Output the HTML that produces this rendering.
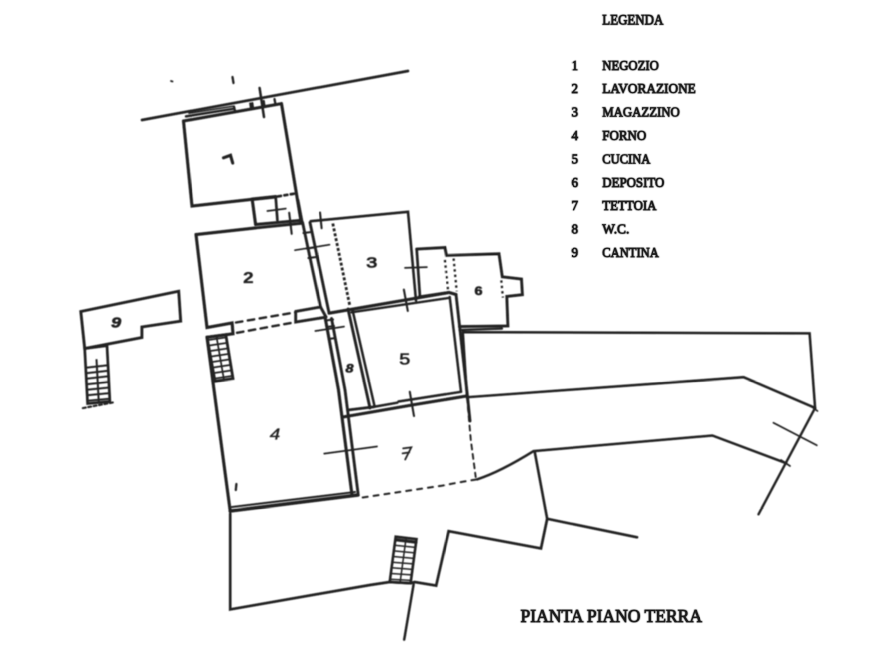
<!DOCTYPE html>
<html><head><meta charset="utf-8"><style>
html,body{margin:0;padding:0;background:#fff;width:893px;height:670px;overflow:hidden}
#clip{position:relative;width:893px;height:670px;overflow:hidden;background:#fff}
#wrap{position:absolute;left:0;top:0;width:1786px;height:1340px;transform:scale(0.5);transform-origin:0 0;will-change:transform}
svg{display:block}
</style></head><body><div id="clip"><div id="wrap">
<svg width="1786" height="1340" viewBox="0 0 893 670"><defs><filter id="bl" filterUnits="userSpaceOnUse" x="0" y="0" width="893" height="670"><feGaussianBlur stdDeviation="0.6"/></filter></defs><g filter="url(#bl)"><g fill="none" stroke-linejoin="miter"><path d="M142,120 L408,71" stroke="#202020" stroke-width="2.70" stroke-linecap="round"/>
<path d="M259.6,88 L264,117" stroke="#202020" stroke-width="2.50" stroke-linecap="round"/>
<path d="M232.5,77 L233.5,83" stroke="#202020" stroke-width="2.30" stroke-linecap="round"/>
<path d="M171,81 L172.5,81.5" stroke="#202020" stroke-width="1.80" stroke-linecap="round"/>
<path d="M183.5,121 L281.5,103.6" stroke="#202020" stroke-width="3.10" stroke-linecap="round"/>
<path d="M186,116.4 L234,108.7" stroke="#202020" stroke-width="2.50" stroke-linecap="round"/>
<path d="M189,113.2 L233,106.2" stroke="#202020" stroke-width="1.50" stroke-linecap="round"/>
<path d="M234,106.5 L235,111  M250.3,103.5 L251.2,109  M252.3,103.2 L253,108.5 M263.7,101 L264.5,106.5 M274.5,99 L275.5,104.5" stroke="#202020" stroke-width="2.30" stroke-linecap="round"/>
<path d="M183.5,121 L192,206 L252.2,199.3" stroke="#202020" stroke-width="3.10" stroke-linecap="round"/>
<path d="M281.5,103.6 L301,221" stroke="#202020" stroke-width="3.10" stroke-linecap="round"/>
<path d="M223.5,157.8 L230.5,155.3 L232.7,163" stroke="#202020" stroke-width="3.10" stroke-linecap="round"/>
<path d="M252.2,199.3 L275.7,196.8" stroke="#202020" stroke-width="3.50" stroke-linecap="round"/>
<path d="M278,196.4 L296,193.4" stroke="#202020" stroke-width="2.70" stroke-dasharray="3,3.5" stroke-linecap="round"/>
<path d="M252.2,199.3 L255.6,224.5" stroke="#202020" stroke-width="3.10" stroke-linecap="round"/>
<path d="M275.7,196.8 L277.4,220" stroke="#202020" stroke-width="2.70" stroke-linecap="round"/>
<path d="M267.4,211 L285.8,208.6" stroke="#202020" stroke-width="1.70" stroke-linecap="round"/>
<path d="M289.2,212.8 L291.7,233.8" stroke="#202020" stroke-width="2.10" stroke-linecap="round"/>
<path d="M196,234.6 L255.6,227.9" stroke="#202020" stroke-width="3.10" stroke-linecap="round"/>
<path d="M255.6,224.5 L301,220.3" stroke="#202020" stroke-width="2.90" stroke-linecap="round"/>
<path d="M255.6,227.9 L302.6,223.2" stroke="#202020" stroke-width="2.90" stroke-linecap="round"/>
<path d="M196,234.6 L207,327.5 L232.1,323 L233,333.8 L207,337.3" stroke="#202020" stroke-width="3.10" stroke-linecap="round"/>
<path d="M236,322.5 L295.7,312.3" stroke="#202020" stroke-width="2.40" stroke-dasharray="6.5,5.5" stroke-linecap="round"/>
<path d="M237,332.8 L295.7,322.1" stroke="#202020" stroke-width="2.40" stroke-dasharray="6.5,5.5" stroke-linecap="round"/>
<path d="M295.7,311.4 L320.5,307 M295.7,311.4 L295.7,322.1 L324.3,317.4" stroke="#202020" stroke-width="2.90" stroke-linecap="round"/>
<text x="243.2" y="283.2" font-size="15.5" font-family="Liberation Sans" font-weight="bold" font-style="normal" fill="#202020" stroke="#202020" stroke-width="0.3" textLength="10.5" lengthAdjust="spacingAndGlyphs">2</text>
<path d="M298,200 L302,221" stroke="#202020" stroke-width="2.70" stroke-linecap="round"/>
<path d="M302.6,222.5 L320.5,307 L326,317" stroke="#202020" stroke-width="2.90" stroke-linecap="round"/>
<path d="M310,222.5 L328.9,312.3" stroke="#202020" stroke-width="2.90" stroke-linecap="round"/>
<path d="M303.5,233 L311.5,232 M306.6,248.5 L314.5,247.5 M308.5,258 L316.5,257" stroke="#202020" stroke-width="2.10" stroke-linecap="round"/>
<path d="M295,250.2 L329.5,244.7" stroke="#202020" stroke-width="1.70" stroke-linecap="round"/>
<path d="M320,212.5 L321.6,228.2" stroke="#202020" stroke-width="2.10" stroke-linecap="round"/>
<path d="M315.4,331 L344,326.6" stroke="#202020" stroke-width="1.70" stroke-linecap="round"/>
<path d="M326,320.5 L333,319.5 M327,327 L334,326 M328.8,339 L335.5,338" stroke="#202020" stroke-width="2.10" stroke-linecap="round"/>
<path d="M310.7,221.2 L408,211.8 L416,300.5" stroke="#202020" stroke-width="2.60" stroke-linecap="round"/>
<path d="M416.7,249.1 L419.9,296" stroke="#202020" stroke-width="2.70" stroke-linecap="round"/>
<path d="M332.8,223.5 L349.8,305.7" stroke="#202020" stroke-width="2.80" stroke-dasharray="3,2" stroke-linecap="butt"/>
<path d="M405,267.9 L426.9,267.1" stroke="#202020" stroke-width="1.70" stroke-linecap="round"/>
<text x="366.3" y="267.3" font-size="15" font-family="Liberation Sans" font-weight="normal" font-style="normal" fill="#202020" stroke="#202020" stroke-width="0.8" textLength="11" lengthAdjust="spacingAndGlyphs">3</text>
<path d="M416.7,249.1 L444.9,247.5 L446.5,255.4 L499,253.8 L502.3,276.8 L521.5,279 L522.4,294.7 L506.8,296.4 L507.9,326 L459.5,326.6 M449,292.5 L419.1,296.9" stroke="#202020" stroke-width="2.90" stroke-linecap="round"/>
<path d="M444.9,260 L448,289.8" stroke="#202020" stroke-width="2.30" stroke-dasharray="2.4,3" stroke-linecap="butt"/>
<path d="M453.6,258.5 L456.7,291.4" stroke="#202020" stroke-width="2.30" stroke-dasharray="2.4,3" stroke-linecap="butt"/>
<path d="M501.3,280.4 L502.9,297.6" stroke="#202020" stroke-width="2.30" stroke-dasharray="2.4,3" stroke-linecap="butt"/>
<path d="M459.5,330 L502,328.6" stroke="#202020" stroke-width="2.30" stroke-linecap="round"/>
<text x="474.5" y="295" font-size="11.5" font-family="Liberation Sans" font-weight="bold" font-style="normal" fill="#202020" stroke="#202020" stroke-width="0.6" textLength="8" lengthAdjust="spacingAndGlyphs">6</text>
<path d="M329,313.2 L449,292.5 L456,294.5" stroke="#202020" stroke-width="3.10" stroke-linecap="round"/>
<path d="M351.4,312.3 L448.5,298" stroke="#202020" stroke-width="2.30" stroke-linecap="round"/>
<path d="M456,294.5 L467.2,393.9 L470,421" stroke="#202020" stroke-width="2.90" stroke-linecap="round"/>
<path d="M449.7,297 L461,391.8" stroke="#202020" stroke-width="2.50" stroke-linecap="round"/>
<path d="M373.6,406.9 L397.2,402.7 M398.5,401.5 L461,391.8" stroke="#202020" stroke-width="2.50" stroke-linecap="round"/>
<path d="M343,417 L415,404.5 L466.5,396" stroke="#202020" stroke-width="3.10" stroke-linecap="round"/>
<path d="M348,309 L370,408" stroke="#202020" stroke-width="2.90" stroke-linecap="round"/>
<path d="M352.5,310 L374.5,406" stroke="#202020" stroke-width="2.50" stroke-linecap="round"/>
<path d="M403.9,289.7 L407.8,310.9" stroke="#202020" stroke-width="2.10" stroke-linecap="round"/>
<path d="M409.8,391.8 L414,416" stroke="#202020" stroke-width="2.10" stroke-linecap="round"/>
<text x="399.3" y="364.6" font-size="16" font-family="Liberation Sans" font-weight="normal" font-style="normal" fill="#202020" stroke="#202020" stroke-width="0.6" textLength="11" lengthAdjust="spacingAndGlyphs">5</text>
<path d="M325,317 L338.5,390 L352,495" stroke="#202020" stroke-width="3.10" stroke-linecap="round"/>
<path d="M331.5,318.5 L345,390 L358,493" stroke="#202020" stroke-width="2.90" stroke-linecap="round"/>
<path d="M349.1,409.9 L373.6,406.9" stroke="#202020" stroke-width="2.70" stroke-linecap="round"/>
<text x="345.5" y="372.7" font-size="12" font-family="Liberation Sans" font-weight="bold" font-style="italic" fill="#202020" stroke="#202020" stroke-width="0.6" textLength="8" lengthAdjust="spacingAndGlyphs">8</text>
<path d="M207,337.3 L230.2,511" stroke="#202020" stroke-width="3.10" stroke-linecap="round"/>
<path d="M230.2,511 L358,495" stroke="#202020" stroke-width="3.50" stroke-linecap="round"/>
<path d="M232,507 L355,492" stroke="#202020" stroke-width="2.10" stroke-linecap="round"/>
<text x="269.8" y="439.3" font-size="16" font-family="Liberation Sans" font-weight="normal" font-style="italic" fill="#202020" stroke="#202020" stroke-width="0.35" textLength="10.5" lengthAdjust="spacingAndGlyphs">4</text>
<path d="M236.4,484 L235.8,490" stroke="#202020" stroke-width="2.30" stroke-linecap="round"/>
<path d="M324.2,453.6 L377,446.5" stroke="#202020" stroke-width="1.70" stroke-linecap="round"/>
<g stroke="#202020" stroke-width="1.7"><path d="M207.5,340.1 L226.2,337.4"/><path d="M208.5,345.6 L227.2,342.9"/><path d="M209.5,351.1 L228.1,348.4"/><path d="M210.5,356.6 L229.0,353.9"/><path d="M211.5,362.1 L229.8,359.4"/><path d="M212.5,367.6 L230.8,364.9"/><path d="M213.5,373.1 L231.7,370.4"/><path d="M214.5,378.6 L232.6,375.9"/><path d="M216.4,336.0 L224.0,380.0"/><path d="M207,337.3 L225.8,334.7 L233,378.6 L215,381.3 Z" stroke-width="2.8"/></g>
<path d="M80.8,311.5 L178.7,291.2 L180.7,321.2 L141.9,327 L141.9,337.6 L84.7,348.5 Z" stroke="#202020" stroke-width="2.90" stroke-linecap="round"/>
<g stroke="#202020" stroke-width="2.0"><path d="M85.7,367.8 L108.0,365.2"/><path d="M86.0,373.2 L108.3,370.8"/><path d="M86.3,378.8 L108.6,376.3"/><path d="M86.6,384.2 L108.9,381.9"/><path d="M86.9,389.8 L109.2,387.5"/><path d="M87.2,395.2 L109.5,393.1"/><path d="M87.5,400.8 L109.8,398.7"/><path d="M96.5,359.2 L98.8,402.5"/><path d="M84.7,348.5 L107,345.6 L109.9,401.5 L87.6,403.5 Z" stroke-width="2.7"/></g>
<path d="M82.8,408.1 L113.8,402.3" stroke="#202020" stroke-width="2.10" stroke-dasharray="3,2.5" stroke-linecap="round"/>
<text x="111.2" y="327.5" font-size="15" font-family="Liberation Sans" font-weight="bold" font-style="italic" fill="#202020" stroke="#202020" stroke-width="0.6" textLength="10" lengthAdjust="spacingAndGlyphs">9</text>
<path d="M362.7,497.5 L442.5,485.6 Q460,482 477,479.4" stroke="#202020" stroke-width="2.00" stroke-dasharray="5,6" stroke-linecap="round"/>
<path d="M477,479.4 Q500,472 533.6,451.1 L712.3,435.5 L786.2,463.2" stroke="#202020" stroke-width="2.50" stroke-linecap="round"/>
<path d="M467,397.2 L470.8,440 L475.7,477" stroke="#202020" stroke-width="1.90" stroke-dasharray="5,4.5" stroke-linecap="round"/>
<path d="M534.8,452.3 L547.2,518.8 L637.1,537.3" stroke="#202020" stroke-width="2.60" stroke-linecap="round"/>
<path d="M547.2,518.8 L541,548.4 L448.6,531.2 L436.2,585.6 L414.7,582 L410.6,583.2 L389.7,582 L370,585 L230.2,609.4 L230.2,513.7" stroke="#202020" stroke-width="2.70" stroke-linecap="round"/>
<path d="M413.6,584.4 L404.2,639.6" stroke="#202020" stroke-width="2.50" stroke-linecap="round"/>
<path d="M403.2,448.4 L411.3,447.4 L405.2,459.5 M402.6,453.4 L409.3,452.4" stroke="#202020" stroke-width="1.80" stroke-linecap="round"/>
<g stroke="#202020" stroke-width="1.5"><path d="M395.3,539.5 L416.1,541.9"/><path d="M394.6,545.2 L415.4,547.4"/><path d="M393.8,550.9 L414.7,552.9"/><path d="M393.1,556.5 L413.9,558.4"/><path d="M392.3,562.2 L413.2,563.9"/><path d="M391.6,567.8 L412.4,569.4"/><path d="M390.8,573.5 L411.7,574.9"/><path d="M390.1,579.2 L411.0,580.4"/><path d="M406.1,537.9 L400.1,582.6"/><path d="M395.7,536.7 L416.5,539.1 L410.6,583.2 L389.7,582 Z" stroke-width="2.6"/></g>
<path d="M396,539.8 L416,542.2" stroke="#202020" stroke-width="3.10" stroke-linecap="round"/>
<path d="M462.8,332.1 L809.6,333.4 L815.1,407.9 L743.6,377.2 L467,397.2 L462.8,332.1" stroke="#202020" stroke-width="2.50" stroke-linecap="round"/>
<path d="M815.1,407.9 L758.5,514.3" stroke="#202020" stroke-width="2.40" stroke-linecap="round"/>
<path d="M773.4,422.8 L816.8,445.3" stroke="#202020" stroke-width="1.70" stroke-linecap="round"/>
<path d="M810,405.5 L817.5,411" stroke="#202020" stroke-width="1.70" stroke-linecap="round"/>
<path d="M781,460 L790,466" stroke="#202020" stroke-width="1.70" stroke-linecap="round"/></g></g><g fill="#202020" stroke="none" filter="url(#bl)"><text x="602.3" y="24.4" font-size="14.5" font-family="Liberation Serif" font-weight="normal" font-style="normal" textLength="61" lengthAdjust="spacingAndGlyphs" stroke="#333" stroke-width="1.0">LEGENDA</text>
<text x="571.5" y="69.8" font-size="13.5" font-family="Liberation Serif" font-weight="normal" font-style="normal" textLength="6.5" lengthAdjust="spacingAndGlyphs" stroke="#333" stroke-width="1.0">1</text>
<text x="602.3" y="69.8" font-size="13.8" font-family="Liberation Serif" font-weight="normal" font-style="normal" textLength="56.5" lengthAdjust="spacingAndGlyphs" stroke="#333" stroke-width="1.0">NEGOZIO</text>
<text x="571.5" y="93.19999999999999" font-size="13.5" font-family="Liberation Serif" font-weight="normal" font-style="normal" textLength="6.5" lengthAdjust="spacingAndGlyphs" stroke="#333" stroke-width="1.0">2</text>
<text x="602.3" y="93.19999999999999" font-size="13.8" font-family="Liberation Serif" font-weight="normal" font-style="normal" textLength="93.5" lengthAdjust="spacingAndGlyphs" stroke="#333" stroke-width="1.0">LAVORAZIONE</text>
<text x="571.5" y="116.6" font-size="13.5" font-family="Liberation Serif" font-weight="normal" font-style="normal" textLength="6.5" lengthAdjust="spacingAndGlyphs" stroke="#333" stroke-width="1.0">3</text>
<text x="602.3" y="116.6" font-size="13.8" font-family="Liberation Serif" font-weight="normal" font-style="normal" textLength="77.5" lengthAdjust="spacingAndGlyphs" stroke="#333" stroke-width="1.0">MAGAZZINO</text>
<text x="571.5" y="140.0" font-size="13.5" font-family="Liberation Serif" font-weight="normal" font-style="normal" textLength="6.5" lengthAdjust="spacingAndGlyphs" stroke="#333" stroke-width="1.0">4</text>
<text x="602.3" y="140.0" font-size="13.8" font-family="Liberation Serif" font-weight="normal" font-style="normal" textLength="44" lengthAdjust="spacingAndGlyphs" stroke="#333" stroke-width="1.0">FORNO</text>
<text x="571.5" y="163.39999999999998" font-size="13.5" font-family="Liberation Serif" font-weight="normal" font-style="normal" textLength="6.5" lengthAdjust="spacingAndGlyphs" stroke="#333" stroke-width="1.0">5</text>
<text x="602.3" y="163.39999999999998" font-size="13.8" font-family="Liberation Serif" font-weight="normal" font-style="normal" textLength="48" lengthAdjust="spacingAndGlyphs" stroke="#333" stroke-width="1.0">CUCINA</text>
<text x="571.5" y="186.8" font-size="13.5" font-family="Liberation Serif" font-weight="normal" font-style="normal" textLength="6.5" lengthAdjust="spacingAndGlyphs" stroke="#333" stroke-width="1.0">6</text>
<text x="602.3" y="186.8" font-size="13.8" font-family="Liberation Serif" font-weight="normal" font-style="normal" textLength="62" lengthAdjust="spacingAndGlyphs" stroke="#333" stroke-width="1.0">DEPOSITO</text>
<text x="571.5" y="210.2" font-size="13.5" font-family="Liberation Serif" font-weight="normal" font-style="normal" textLength="6.5" lengthAdjust="spacingAndGlyphs" stroke="#333" stroke-width="1.0">7</text>
<text x="602.3" y="210.2" font-size="13.8" font-family="Liberation Serif" font-weight="normal" font-style="normal" textLength="54.2" lengthAdjust="spacingAndGlyphs" stroke="#333" stroke-width="1.0">TETTOIA</text>
<text x="571.5" y="233.59999999999997" font-size="13.5" font-family="Liberation Serif" font-weight="normal" font-style="normal" textLength="6.5" lengthAdjust="spacingAndGlyphs" stroke="#333" stroke-width="1.0">8</text>
<text x="602.3" y="233.59999999999997" font-size="13.8" font-family="Liberation Serif" font-weight="normal" font-style="normal" textLength="27" lengthAdjust="spacingAndGlyphs" stroke="#333" stroke-width="1.0">W.C.</text>
<text x="571.5" y="257.0" font-size="13.5" font-family="Liberation Serif" font-weight="normal" font-style="normal" textLength="6.5" lengthAdjust="spacingAndGlyphs" stroke="#333" stroke-width="1.0">9</text>
<text x="602.3" y="257.0" font-size="13.8" font-family="Liberation Serif" font-weight="normal" font-style="normal" textLength="56.5" lengthAdjust="spacingAndGlyphs" stroke="#333" stroke-width="1.0">CANTINA</text>
<text x="520.5" y="622" font-size="18" font-family="Liberation Serif" font-weight="normal" font-style="normal" textLength="181.5" lengthAdjust="spacingAndGlyphs" stroke="#333" stroke-width="1.0">PIANTA PIANO TERRA</text></g><g fill="#1a1a1a" stroke="none"><text x="602.3" y="24.4" font-size="14.5" font-family="Liberation Serif" font-weight="normal" font-style="normal" textLength="61" lengthAdjust="spacingAndGlyphs" stroke="#1a1a1a" stroke-width="0.45">LEGENDA</text>
<text x="571.5" y="69.8" font-size="13.5" font-family="Liberation Serif" font-weight="normal" font-style="normal" textLength="6.5" lengthAdjust="spacingAndGlyphs" stroke="#1a1a1a" stroke-width="0.45">1</text>
<text x="602.3" y="69.8" font-size="13.8" font-family="Liberation Serif" font-weight="normal" font-style="normal" textLength="56.5" lengthAdjust="spacingAndGlyphs" stroke="#1a1a1a" stroke-width="0.45">NEGOZIO</text>
<text x="571.5" y="93.19999999999999" font-size="13.5" font-family="Liberation Serif" font-weight="normal" font-style="normal" textLength="6.5" lengthAdjust="spacingAndGlyphs" stroke="#1a1a1a" stroke-width="0.45">2</text>
<text x="602.3" y="93.19999999999999" font-size="13.8" font-family="Liberation Serif" font-weight="normal" font-style="normal" textLength="93.5" lengthAdjust="spacingAndGlyphs" stroke="#1a1a1a" stroke-width="0.45">LAVORAZIONE</text>
<text x="571.5" y="116.6" font-size="13.5" font-family="Liberation Serif" font-weight="normal" font-style="normal" textLength="6.5" lengthAdjust="spacingAndGlyphs" stroke="#1a1a1a" stroke-width="0.45">3</text>
<text x="602.3" y="116.6" font-size="13.8" font-family="Liberation Serif" font-weight="normal" font-style="normal" textLength="77.5" lengthAdjust="spacingAndGlyphs" stroke="#1a1a1a" stroke-width="0.45">MAGAZZINO</text>
<text x="571.5" y="140.0" font-size="13.5" font-family="Liberation Serif" font-weight="normal" font-style="normal" textLength="6.5" lengthAdjust="spacingAndGlyphs" stroke="#1a1a1a" stroke-width="0.45">4</text>
<text x="602.3" y="140.0" font-size="13.8" font-family="Liberation Serif" font-weight="normal" font-style="normal" textLength="44" lengthAdjust="spacingAndGlyphs" stroke="#1a1a1a" stroke-width="0.45">FORNO</text>
<text x="571.5" y="163.39999999999998" font-size="13.5" font-family="Liberation Serif" font-weight="normal" font-style="normal" textLength="6.5" lengthAdjust="spacingAndGlyphs" stroke="#1a1a1a" stroke-width="0.45">5</text>
<text x="602.3" y="163.39999999999998" font-size="13.8" font-family="Liberation Serif" font-weight="normal" font-style="normal" textLength="48" lengthAdjust="spacingAndGlyphs" stroke="#1a1a1a" stroke-width="0.45">CUCINA</text>
<text x="571.5" y="186.8" font-size="13.5" font-family="Liberation Serif" font-weight="normal" font-style="normal" textLength="6.5" lengthAdjust="spacingAndGlyphs" stroke="#1a1a1a" stroke-width="0.45">6</text>
<text x="602.3" y="186.8" font-size="13.8" font-family="Liberation Serif" font-weight="normal" font-style="normal" textLength="62" lengthAdjust="spacingAndGlyphs" stroke="#1a1a1a" stroke-width="0.45">DEPOSITO</text>
<text x="571.5" y="210.2" font-size="13.5" font-family="Liberation Serif" font-weight="normal" font-style="normal" textLength="6.5" lengthAdjust="spacingAndGlyphs" stroke="#1a1a1a" stroke-width="0.45">7</text>
<text x="602.3" y="210.2" font-size="13.8" font-family="Liberation Serif" font-weight="normal" font-style="normal" textLength="54.2" lengthAdjust="spacingAndGlyphs" stroke="#1a1a1a" stroke-width="0.45">TETTOIA</text>
<text x="571.5" y="233.59999999999997" font-size="13.5" font-family="Liberation Serif" font-weight="normal" font-style="normal" textLength="6.5" lengthAdjust="spacingAndGlyphs" stroke="#1a1a1a" stroke-width="0.45">8</text>
<text x="602.3" y="233.59999999999997" font-size="13.8" font-family="Liberation Serif" font-weight="normal" font-style="normal" textLength="27" lengthAdjust="spacingAndGlyphs" stroke="#1a1a1a" stroke-width="0.45">W.C.</text>
<text x="571.5" y="257.0" font-size="13.5" font-family="Liberation Serif" font-weight="normal" font-style="normal" textLength="6.5" lengthAdjust="spacingAndGlyphs" stroke="#1a1a1a" stroke-width="0.45">9</text>
<text x="602.3" y="257.0" font-size="13.8" font-family="Liberation Serif" font-weight="normal" font-style="normal" textLength="56.5" lengthAdjust="spacingAndGlyphs" stroke="#1a1a1a" stroke-width="0.45">CANTINA</text>
<text x="520.5" y="622" font-size="18" font-family="Liberation Serif" font-weight="normal" font-style="normal" textLength="181.5" lengthAdjust="spacingAndGlyphs" stroke="#1a1a1a" stroke-width="0.45">PIANTA PIANO TERRA</text></g></svg>
</div></div></body></html>
